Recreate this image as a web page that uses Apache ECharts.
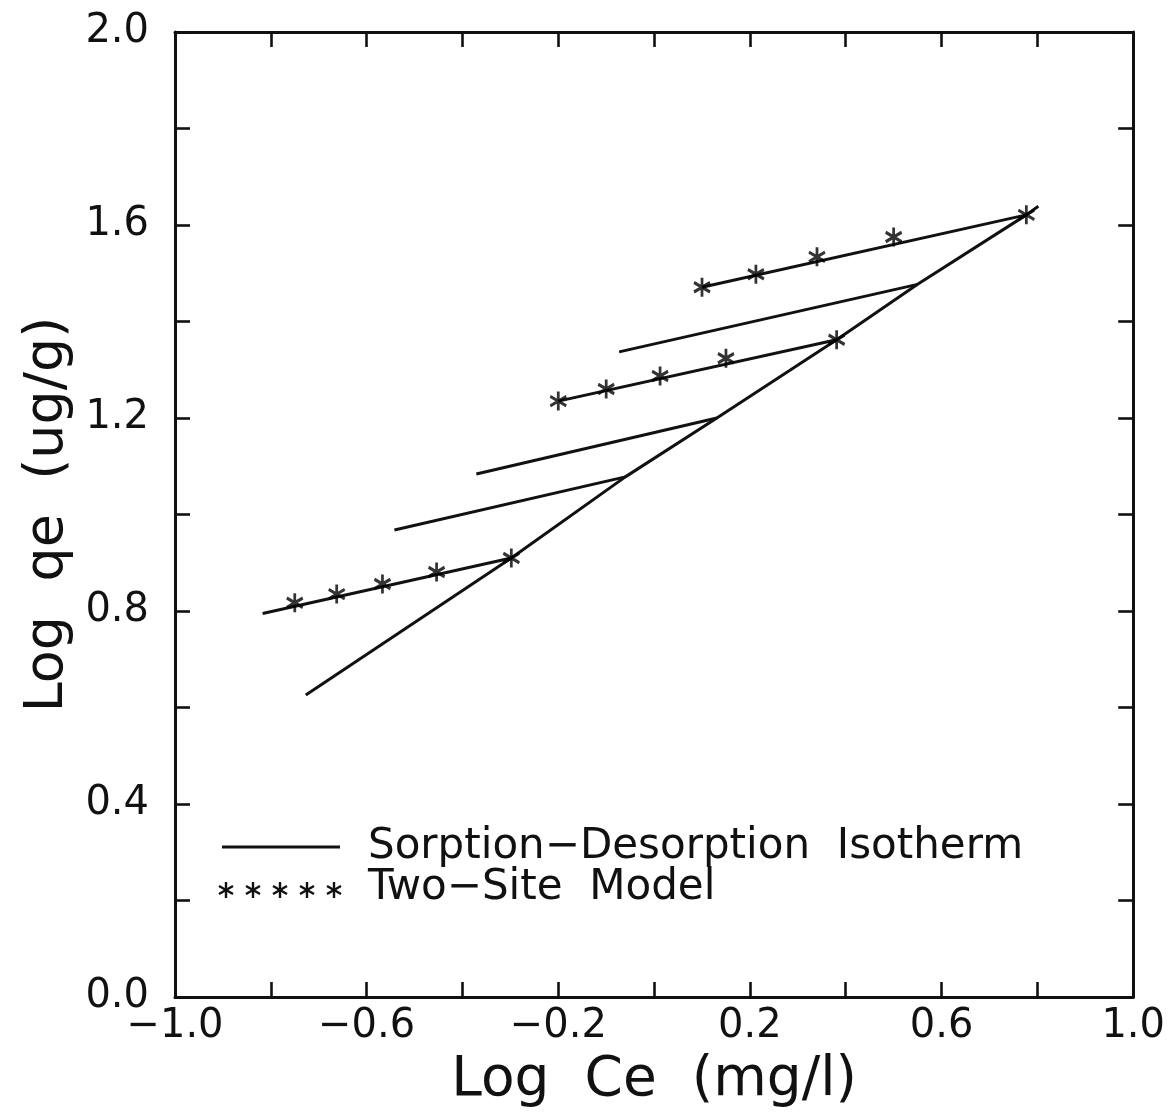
<!DOCTYPE html>
<html>
<head>
<meta charset="utf-8">
<script src="https://cdn.jsdelivr.net/npm/echarts@6/dist/echarts.min.js"></script>
<style>
  html, body { margin: 0; padding: 0; background: #fff; }
  #chart { width: 1168px; height: 1115px; }
</style>
</head>
<body>
<div id="chart"></div>
<script>
// ---- Data ----
// Sorption isotherm (long diagonal line)
const sorptionX = [-0.727, -0.298, -0.060, 0.131, 0.381, 0.550, 0.777, 0.802];
const sorptionY = [0.626, 0.910, 1.078, 1.200, 1.362, 1.477, 1.621, 1.639];

// Desorption isotherms (start and end points)
const desorb1X = [-0.817, -0.298]; const desorb1Y = [0.795, 0.910];
const desorb2X = [-0.542, -0.060]; const desorb2Y = [0.968, 1.078];
const desorb3X = [-0.371, 0.131];  const desorb3Y = [1.084, 1.200];
const desorb4X = [-0.200, 0.381];  const desorb4Y = [1.235, 1.362];
const desorb5X = [-0.073, 0.550];  const desorb5Y = [1.337, 1.477];
const desorb6X = [0.100, 0.777];   const desorb6Y = [1.471, 1.621];

// Two-site model points (asterisks)
const model1X = [-0.750, -0.6625, -0.567, -0.454, -0.298];
const model1Y = [0.817, 0.835, 0.856, 0.881, 0.910];
const model2X = [-0.200, -0.100, 0.0125, 0.150, 0.381];
const model2Y = [1.235, 1.260, 1.287, 1.324, 1.362];
const model3X = [0.100, 0.2125, 0.340, 0.500, 0.777];
const model3Y = [1.471, 1.498, 1.534, 1.575, 1.621];

// Axes
const xMin = -1.0, xMax = 1.0, xStep = 0.2;
const yMin = 0.0, yMax = 2.0, yStep = 0.2;
const xTitle = 'Log  Ce  (mg/l)';
const yTitle = 'Log  qe  (ug/g)';
const legendLine = 'Sorption\u2212Desorption  Isotherm';
const legendStar = 'Two\u2212Site  Model';

// ---- Build chart ----
const FONT = 'DejaVu Sans';
const INK = '#111';
const zip = (xs, ys) => xs.map((x, i) => [x, ys[i]]);
const STAR = 'path://M0,-1L0,1M-0.866,-0.5L0.866,0.5M-0.866,0.5L0.866,-0.5';

function fmt(min) {
  return function (v) {
    const k = Math.round((v - min) / 0.2);
    if (k % 2 !== 0) return '';
    return v.toFixed(1).replace('-', '\u2212');
  };
}

const lineStyle = { color: INK, width: 3 };
function lineSeries(xs, ys) {
  return {
    type: 'line', data: zip(xs, ys), showSymbol: false, symbol: 'none',
    lineStyle: lineStyle, silent: true, z: 2, animation: false
  };
}
function starSeries(xs, ys) {
  return {
    type: 'scatter', data: zip(xs, ys), symbol: STAR, symbolSize: [16, 19],
    itemStyle: { color: INK, borderColor: '#000', borderWidth: 3 },
    z: 3, animation: false
  };
}

const axisCommon = {
  axisLine: { show: true, onZero: false, lineStyle: { color: INK, width: 3 } },
  axisTick: { show: true, inside: true, length: 15, lineStyle: { color: INK, width: 2.6 } },
  splitLine: { show: false }
};

const chart = echarts.init(document.getElementById('chart'), null, { renderer: 'canvas' });

// legend sample asterisks (drawn as small line groups)
function starGraphic(cx, cy) {
  const s = { stroke: INK, lineWidth: 2.4 };
  return {
    type: 'group', x: cx, y: cy,
    children: [
      { type: 'line', shape: { x1: 0, y1: -8, x2: 0, y2: 8 }, style: s },
      { type: 'line', shape: { x1: -7, y1: -4, x2: 7, y2: 4 }, style: s },
      { type: 'line', shape: { x1: -7, y1: 4, x2: 7, y2: -4 }, style: s }
    ]
  };
}
const legendStars = [];
for (let i = 0; i < 5; i++) legendStars.push(starGraphic(226 + i * 27, 890));

chart.setOption({
  backgroundColor: '#fff',
  animation: false,
  grid: { left: 175, right: 33, top: 32, bottom: 118, containLabel: false },
  xAxis: [
    Object.assign({}, axisCommon, {
      type: 'value', position: 'bottom', min: xMin, max: xMax, interval: xStep,
      axisLabel: { formatter: fmt(xMin), color: INK, fontFamily: FONT, fontSize: 40, margin: 10,
                   showMinLabel: true, showMaxLabel: true },
      name: xTitle, nameLocation: 'middle', nameGap: 56,
      nameTextStyle: { color: INK, fontFamily: FONT, fontSize: 55 }
    }),
    Object.assign({}, axisCommon, {
      type: 'value', position: 'top', min: xMin, max: xMax, interval: xStep,
      axisLabel: { show: false }
    })
  ],
  yAxis: [
    Object.assign({}, axisCommon, {
      type: 'value', position: 'left', min: yMin, max: yMax, interval: yStep,
      axisLabel: { formatter: fmt(yMin), color: INK, fontFamily: FONT, fontSize: 40, margin: 26,
                   showMinLabel: true, showMaxLabel: true },
      name: yTitle, nameLocation: 'middle', nameGap: 98,
      nameTextStyle: { color: INK, fontFamily: FONT, fontSize: 54 }
    }),
    Object.assign({}, axisCommon, {
      type: 'value', position: 'right', min: yMin, max: yMax, interval: yStep,
      axisLabel: { show: false }
    })
  ],
  series: [
    lineSeries(sorptionX, sorptionY),
    lineSeries(desorb1X, desorb1Y),
    lineSeries(desorb2X, desorb2Y),
    lineSeries(desorb3X, desorb3Y),
    lineSeries(desorb4X, desorb4Y),
    lineSeries(desorb5X, desorb5Y),
    lineSeries(desorb6X, desorb6Y),
    starSeries(model1X, model1Y),
    starSeries(model2X, model2Y),
    starSeries(model3X, model3Y)
  ],
  graphic: [
    { type: 'line', shape: { x1: 222, y1: 847, x2: 340, y2: 847 },
      style: { stroke: INK, lineWidth: 3 } },
    { type: 'text', x: 368, y: 847,
      style: { text: legendLine, fill: INK, font: '42px "DejaVu Sans"', verticalAlign: 'middle' } },
    { type: 'text', x: 368, y: 888,
      style: { text: legendStar, fill: INK, font: '42px "DejaVu Sans"', verticalAlign: 'middle' } }
  ].concat(legendStars)
});
</script>
</body>
</html>
